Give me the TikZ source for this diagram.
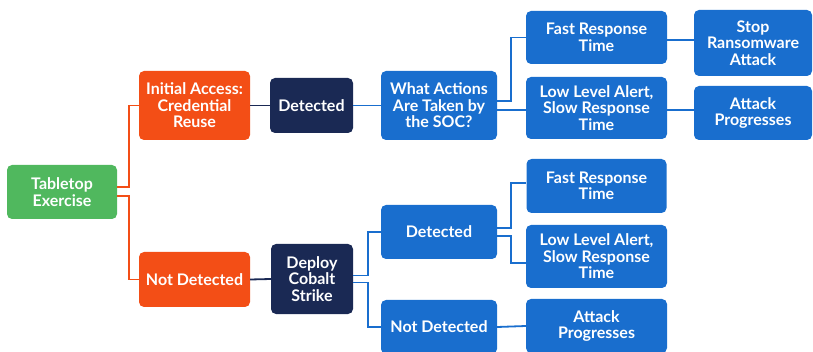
\documentclass[tikz,border=0pt]{standalone}
\usepackage{fontspec}
\setmainfont{Lato}
\definecolor{cgreen}{RGB}{80,184,94}
\definecolor{corange}{RGB}{243,78,22}
\definecolor{cnavy}{RGB}{26,41,84}
\definecolor{cblue}{RGB}{25,110,206}
\tikzset{
  box/.style={rectangle, rounded corners=5pt, inner sep=0pt, align=center, text=white,
    font=\bfseries\fontsize{16}{16.5}\selectfont},
  gbox/.style={box, fill=cgreen},
  obox/.style={box, fill=corange},
  nbox/.style={box, fill=cnavy},
  bbox/.style={box, fill=cblue},
  link/.style={line width=1.8pt},
  olink/.style={link, draw=corange},
  nlink/.style={link, draw=cnavy},
  blink/.style={link, draw=cblue},
}
\begin{document}
\begin{tikzpicture}[x=1pt,y=-1pt]
\useasboundingbox (0,0) rectangle (813,352);
\clip (0,0) rectangle (813,352);
% nodes
\node[gbox, minimum width=110pt, minimum height=54pt] (tab) at (62,192) {Tabletop\\Exercise};
\node[obox, minimum width=111pt, minimum height=69pt] (ia) at (194.5,105.5) {Initial Access:\\Credential\\Reuse};
\node[obox, minimum width=111pt, minimum height=55pt] (nd1) at (194.5,279.5) {Not Detected};
\node[nbox, minimum width=83pt, minimum height=55pt] (det1) at (311.5,105.5) {Detected};
\node[nbox, minimum width=82pt, minimum height=70pt] (dcs) at (312,279) {Deploy\\Cobalt\\Strike};
\node[bbox, minimum width=116pt, minimum height=69pt] (wa) at (439,105.5) {What Actions\\Are Taken by\\the SOC?};
\node[bbox, minimum width=116pt, minimum height=54pt] (det2) at (439,232) {Detected};
\node[bbox, minimum width=116pt, minimum height=54pt] (nd2) at (439,327) {Not Detected};
\node[bbox, minimum width=141pt, minimum height=53pt] (fr1) at (596.5,37.5) {Fast Response\\Time};
\node[bbox, minimum width=141pt, minimum height=62pt] (ll1) at (596.5,108) {Low Level Alert,\\Slow Response\\Time};
\node[bbox, minimum width=118pt, minimum height=66pt] (sr) at (753,43) {Stop\\Ransomware\\Attack};
\node[bbox, minimum width=118pt, minimum height=54pt] (ap1) at (753,113) {Attack\\Progresses};
\node[bbox, minimum width=140pt, minimum height=54pt] (fr2) at (596.5,186) {Fast Response\\Time};
\node[bbox, minimum width=141pt, minimum height=63pt] (ll2) at (596.5,256.5) {Low Level Alert,\\Slow Response\\Time};
\node[bbox, minimum width=141pt, minimum height=54pt] (ap2) at (596.5,326) {Attack\\Progresses};
% connectors
\draw[olink] ([yshift=5pt]tab.east) -- ++(12,0) |- (ia.west);
\draw[olink] ([yshift=-4pt]tab.east) -- ++(12,0) |- (nd1.west);
\draw[nlink] (ia.east) -- (det1.west);
\draw[nlink] (nd1.east) -- (dcs.west);
\draw[blink] (det1.east) -- (wa.west);
\draw[blink] ([yshift=3.5pt]dcs.east) -- ++(15,0) |- (det2.west);
\draw[blink] ([yshift=-3.5pt]dcs.east) -- ++(15,0) |- (nd2.west);
\draw[blink] ([yshift=4.5pt]wa.east) -- ++(14,0) |- (fr1.west);
\coordinate (w2) at ([yshift=-4.5pt]wa.east);
\draw[blink] (w2) -- (w2 -| ll1.west);
\coordinate (f1) at ([yshift=-2.5pt]fr1.east);
\draw[blink] (f1) -- (f1 -| sr.west);
\coordinate (l1) at ([yshift=-2pt]ll1.east);
\draw[blink] (l1) -- (l1 -| ap1.west);
\draw[blink] ([yshift=4pt]det2.east) -- ++(14,0) |- ([yshift=3pt]fr2.west);
\draw[blink] ([yshift=-4pt]det2.east) -- ++(14,0) |- ([yshift=-6.5pt]ll2.west);
\draw[blink] (nd2.east) -- (ap2.west);
\end{tikzpicture}
\end{document}
